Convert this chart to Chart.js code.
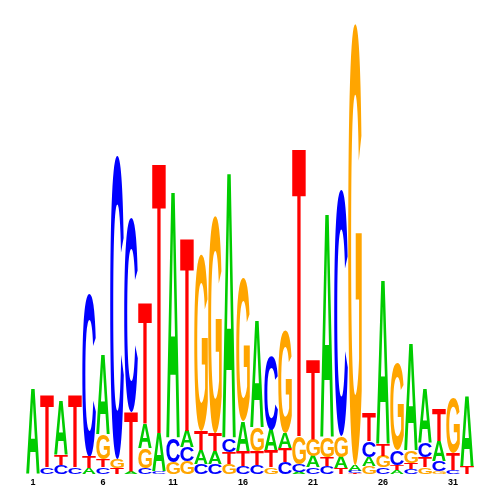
<!DOCTYPE html>
<html>
<head>
<meta charset="utf-8">
<script src="https://cdn.jsdelivr.net/npm/chart.js@4/dist/chart.umd.min.js"></script>
<style>
    html, body { margin: 0; padding: 0; background: #fff; }
    #wrap { width: 500px; height: 500px; }
</style>
</head>
<body>
<div id="wrap"><canvas id="canvas" width="500" height="500"></canvas></div>
<script>
// positions 1..32, letter heights in bits
var positions = [];
for (var i = 1; i <= 32; i++) positions.push(String(i));

var letters = ['A', 'C', 'G', 'T'];
var letterColors = ['rgb(0, 204, 0)', 'rgb(0, 0, 255)', 'rgb(255, 165, 0)', 'rgb(255, 0, 0)'];

var heightsA = [0.375, 0, 0.238, 0, 0.026, 0.353, 0, 0.013, 0.106, 0.168, 1.086, 0.071, 0.062, 0.057, 1.170, 0.132,
    0.472, 0.093, 0.066, 0.009, 0.049, 0.985, 0.049, 0.026, 0.040, 0.720, 0.018, 0.472, 0.238, 0.088, 0, 0.313];
var heightsC = [0, 0.031, 0.040, 0.031, 0.720, 0.031, 1.338, 0.857, 0.026, 0.013, 0.102, 0.062, 0.044, 0.044, 0.057, 0.035,
    0.040, 0.327, 0.053, 0.035, 0.031, 0.035, 1.086, 0.009, 0.071, 0.031, 0.066, 0.022, 0.062, 0.044, 0.018, 0];
var heightsG = [0, 0, 0, 0, 0, 0.110, 0.040, 0, 0.088, 0, 0.053, 0.057, 0.777, 0.958, 0.044, 0.631,
    0.102, 0.031, 0.450, 0.124, 0.075, 0.084, 0.093, 1.947, 0.035, 0.049, 0.380, 0.053, 0.031, 0.013, 0.243, 0];
var heightsT = [0, 0.318, 0.044, 0.318, 0.049, 0.035, 0.026, 0.260, 0.534, 1.192, 0, 0.852, 0.084, 0.079, 0.053, 0.066,
    0.062, 0.071, 0.062, 1.272, 0.353, 0.040, 0.026, 0.004, 0.124, 0.053, 0.022, 0.026, 0.044, 0.141, 0.075, 0.031];

var tickEvery = 5;

function stackRanges(allHeights) {
    // smallest letter at the bottom, tallest on top
    var ranges = allHeights.map(() => []);
    for (var p = 0; p < positions.length; p++) {
        var order = [0, 1, 2, 3].sort((a, b) => allHeights[a][p] - allHeights[b][p]);
        var base = 0;
        order.forEach(function(k) {
            var h = allHeights[k][p];
            ranges[k][p] = h > 0 ? [base, base + h] : null;
            base += h;
        });
    }
    return ranges;
}

var ranges = stackRanges([heightsA, heightsC, heightsG, heightsT]);

var letterPlugin = {
    id: 'letters',
    afterDatasetsDraw(chart) {
        var ctx = chart.ctx;
        ctx.save();
        chart.data.datasets.forEach(function(ds, di) {
            var meta = chart.getDatasetMeta(di);
            var letter = ds.label;
            ctx.font = 'bold 200px "Liberation Sans", Arial, sans-serif';
            var m = ctx.measureText(letter);
            var gw = m.actualBoundingBoxLeft + m.actualBoundingBoxRight;
            var gh = m.actualBoundingBoxAscent + m.actualBoundingBoxDescent;
            meta.data.forEach(function(bar, j) {
                if (!ds.data[j]) return;
                var top = Math.min(bar.y, bar.base);
                var h = Math.abs(bar.base - bar.y);
                if (h < 0.5) return;
                var w = bar.width;
                ctx.save();
                ctx.translate(bar.x - w / 2, top);
                ctx.scale(w / gw, h / gh);
                ctx.fillStyle = ds.letterColor;
                ctx.fillText(letter, m.actualBoundingBoxLeft, m.actualBoundingBoxAscent);
                ctx.restore();
            });
        });
        ctx.restore();
    }
};

var ctx = document.getElementById('canvas').getContext('2d');
var logoChart = new Chart(ctx, {
    type: 'bar',
    data: {
        labels: positions,
        datasets: letters.map((l, k) => ({
            label: l,
            data: ranges[k],
            letterColor: letterColors[k],
            backgroundColor: 'rgba(0,0,0,0)',
            borderWidth: 0,
            grouped: false,
            categoryPercentage: 1,
            barPercentage: 0.97,
        }))
    },
    options: {
        responsive: false,
        animation: false,
        layout: { padding: { left: 26, right: 26, top: 20, bottom: 9 } },
        plugins: { legend: { display: false }, tooltip: { enabled: false } },
        scales: {
            x: {
                grid: { display: false, drawTicks: false },
                border: { display: false },
                ticks: {
                    autoSkip: false,
                    maxRotation: 0,
                    padding: 3,
                    color: '#000',
                    font: { family: '"Liberation Sans", Arial, sans-serif', size: 9, weight: 'bold' },
                    callback: (v, i) => (i % tickEvery === 0 ? positions[i] : ''),
                }
            },
            y: {
                display: false,
                min: 0,
                max: 2,
            }
        }
    },
    plugins: [letterPlugin]
});
</script>
</body>
</html>
